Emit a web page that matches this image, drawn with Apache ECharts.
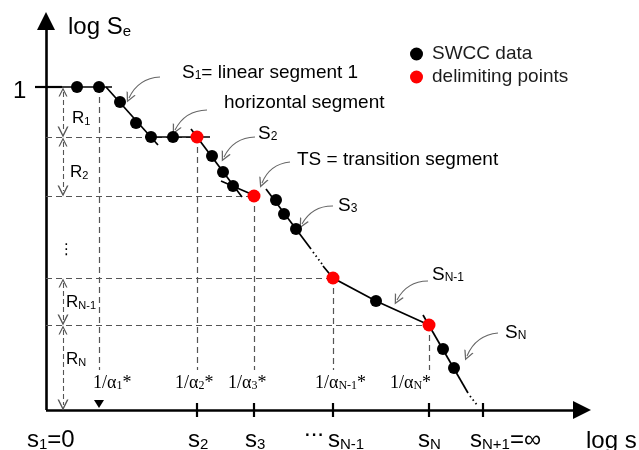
<!DOCTYPE html>
<html>
<head>
<meta charset="utf-8">
<title>SWCC segmentation sketch</title>
<script src="https://cdn.jsdelivr.net/npm/echarts@6/dist/echarts.min.js"></script>
<style>
  html, body { margin: 0; padding: 0; background: #fff; }
  #chart { width: 639px; height: 450px; }
</style>
</head>
<body>
<div id="chart"></div>
<script>
// sketch units: x = log s measured from s1, y = log Se measured from the s axis
var swccX = [31, 53, 74, 90, 105, 127, 166, 177, 187, 230, 238, 250, 330, 397, 408];
var swccY = [323, 323, 308, 287, 273, 273, 254, 238, 224, 210, 196, 181, 109, 61, 42];
var delimX = [151, 208, 287, 383];
var delimY = [273, 214, 132, 85];
var sTicks = [151, 208, 287, 383, 437];        // s2, s3, sN-1, sN, sN+1
var alphaX = [53, 151, 208, 287, 383];         // 1/alpha_1* .. 1/alpha_N*
var levelY = [323, 273, 214, 132, 85, 0];      // log Se at s1, s2, s3, sN-1, sN, sN+1

// fitted pieces of the curve
var fitSegments = [
  [[16, 323], [66, 323]],                          // start, log Se = 1
  [[60, 323], [112, 265]],                         // S1
  [[99, 273], [164, 273]],                         // horizontal segment
  [[145, 281], [196, 213]],                        // S2
  [[175, 229], [212, 213]],                        // TS
  [[220, 221], [265, 161]],                        // S3
  [[277, 144], [287, 132], [330, 109], [383, 85]], // S(N-1)
  [[377, 95], [422, 17]]                           // SN
];
var gapSegments = [
  [[267, 158], [276, 146]],
  [[424, 14], [431, 5]]
];
// pointer arrows: [tip, tail]
var pointers = [
  [[83, 312], [114, 333]],
  [[129, 280], [161, 300]],
  [[178, 253], [209, 273]],
  [[216, 227], [244, 248]],
  [[256, 186], [287, 204]],
  [[351, 110], [382, 129]],
  [[421, 54], [452, 77]]
];

var sans = '"Liberation Sans", Arial, sans-serif';
var serif = '"Liberation Serif", "Times New Roman", serif';
var ink = '#1c1c1c';
var chev = 'path://M5,0 L10,10 L8.6,10 L5,2.8 L1.4,10 L0,10 Z';

var rich = {
  m: { fontFamily: sans, fontSize: 19, lineHeight: 24, verticalAlign: 'bottom', color: ink },
  ms: { fontFamily: sans, fontSize: 12, lineHeight: 12, verticalAlign: 'bottom', color: ink },
  b: { fontFamily: sans, fontSize: 24, lineHeight: 30, verticalAlign: 'bottom', color: ink },
  bs: { fontFamily: sans, fontSize: 15, lineHeight: 15, verticalAlign: 'bottom', color: ink },
  r: { fontFamily: sans, fontSize: 17, lineHeight: 22, verticalAlign: 'bottom', color: ink },
  rs: { fontFamily: sans, fontSize: 11, lineHeight: 11, verticalAlign: 'bottom', color: ink },
  t: { fontFamily: serif, fontSize: 18, lineHeight: 22, verticalAlign: 'bottom', color: ink },
  ts: { fontFamily: serif, fontSize: 12, lineHeight: 12, verticalAlign: 'bottom', color: ink },
  d: { fontFamily: '"DejaVu Sans"', fontSize: 15, color: ink }
};

function label(text, x, y) {
  return { type: 'text', x: x, y: y, silent: true,
    style: { text: text, rich: rich, align: 'left', verticalAlign: 'middle' } };
}

function asLines(list) {
  return list.map(function (c) { return { coords: c }; });
}

var guides = [];
for (var i = 1; i < 5; i++) {
  guides.push([[0, levelY[i]], [alphaX[i], levelY[i]]]);
}
for (var j = 0; j < alphaX.length; j++) {
  guides.push([[alphaX[j], levelY[j]], [alphaX[j], 40]]);
}

// R_i double arrows, shortened by half a chevron so the tips touch the levels
var rArrows = [[0, 1], [1, 2], [3, 4], [4, 5]].map(function (p) {
  return [[17, levelY[p[0]] - 5], [17, levelY[p[1]] + 5]];
});

var tickLines = sTicks.map(function (x) { return [[x, -7], [x, 7]]; });
tickLines.push([[-11, levelY[0]], [16, levelY[0]]]);

var chart = echarts.init(document.getElementById('chart'));
chart.setOption({
  animation: false,
  grid: { left: 46, right: 0, top: 0, bottom: 40 },
  xAxis: { type: 'value', min: 0, max: 593, show: false },
  yAxis: { type: 'value', min: 0, max: 410, show: false },
  legend: {
    data: ['SWCC data', 'delimiting points'],
    orient: 'vertical',
    left: 405, top: 39,
    itemWidth: 13, itemHeight: 13, itemGap: 3,
    icon: 'circle',
    textStyle: { fontFamily: sans, fontSize: 19, color: ink, lineHeight: 20, padding: [0, 0, 0, 4] }
  },
  series: [
    { // axes
      type: 'lines', coordinateSystem: 'cartesian2d', clip: false, silent: true,
      symbol: ['none', 'triangle'], symbolSize: [13, 18],
      lineStyle: { color: '#000', width: 2.6, opacity: 1 },
      data: asLines([[[0, 0], [536, 0]], [[0, 0], [0, 389]]])
    },
    { // ticks
      type: 'lines', coordinateSystem: 'cartesian2d', clip: false, silent: true,
      lineStyle: { color: '#000', width: 2.2, opacity: 1 },
      data: asLines(tickLines)
    },
    { // dashed guides
      type: 'lines', coordinateSystem: 'cartesian2d', clip: false, silent: true,
      lineStyle: { color: '#555', width: 1.2, type: [6, 4], opacity: 1 },
      data: asLines(guides)
    },
    { // R arrows
      type: 'lines', coordinateSystem: 'cartesian2d', clip: false, silent: true,
      symbol: [chev, chev], symbolSize: [9, 11],
      lineStyle: { color: '#555', width: 1.1, type: [5, 3], opacity: 1 },
      data: asLines(rArrows)
    },
    { // fitted segments
      type: 'lines', coordinateSystem: 'cartesian2d', polyline: true, clip: false, silent: true,
      lineStyle: { color: '#000', width: 1.7, opacity: 1 },
      data: asLines(fitSegments)
    },
    { // dotted continuation
      type: 'lines', coordinateSystem: 'cartesian2d', clip: false, silent: true,
      lineStyle: { color: '#000', width: 1.8, type: [1.5, 3], opacity: 1 },
      data: asLines(gapSegments)
    },
    { // pointer arrows
      type: 'lines', coordinateSystem: 'cartesian2d', clip: false, silent: true,
      symbol: [chev, 'none'], symbolSize: [10, 11],
      lineStyle: { color: '#666', width: 1.1, curveness: 0.3, opacity: 1 },
      data: asLines(pointers)
    },
    {
      name: 'SWCC data', type: 'scatter', symbolSize: 12,
      itemStyle: { color: '#000', opacity: 1 },
      data: swccX.map(function (x, k) { return [x, swccY[k]]; })
    },
    {
      name: 'delimiting points', type: 'scatter', symbolSize: 13,
      itemStyle: { color: '#ff0000', opacity: 1 },
      data: delimX.map(function (x, k) { return [x, delimY[k]]; })
    },
    { // marker for 1/alpha_1*
      type: 'scatter', symbol: 'triangle', symbolRotate: 180, symbolSize: [10, 8],
      itemStyle: { color: '#000', opacity: 1 }, silent: true,
      data: [[alphaX[0], 6]]
    }
  ],
  graphic: [
    label('{b|log S}{bs|e}', 68, 24),
    label('{b|1}', 13, 88),
    label('{m|S}{ms|1}{m|= linear segment 1}', 182, 70),
    label('{m|horizontal segment}', 224, 100),
    label('{m|S}{ms|2}', 258, 131),
    label('{m|TS = transition segment}', 297, 157),
    label('{m|S}{ms|3}', 338, 203),
    label('{m|S}{ms|N-1}', 432, 272),
    label('{m|S}{ms|N}', 505, 330),
    label('{r|R}{rs|1}', 72, 116),
    label('{r|R}{rs|2}', 70, 170),
    label('{d|⋮}', 59, 250),
    label('{r|R}{rs|N-1}', 66, 300),
    label('{r|R}{rs|N}', 66, 357),
    label('{t|1/α}{ts|1}{t|*}', 93, 381),
    label('{t|1/α}{ts|2}{t|*}', 175, 381),
    label('{t|1/α}{ts|3}{t|*}', 228, 381),
    label('{t|1/α}{ts|N-1}{t|*}', 315, 381),
    label('{t|1/α}{ts|N}{t|*}', 390, 381),
    label('{b|s}{bs|1}{b|=0}', 27, 437),
    label('{b|s}{bs|2}', 188, 437),
    label('{b|s}{bs|3}', 245, 437),
    label('{b|...}', 304, 426),
    label('{b|s}{bs|N-1}', 328, 437),
    label('{b|s}{bs|N}', 418, 437),
    label('{b|s}{bs|N+1}{b|=∞}', 470, 437),
    label('{b|log s}', 586, 438)
  ]
});
</script>
</body>
</html>
